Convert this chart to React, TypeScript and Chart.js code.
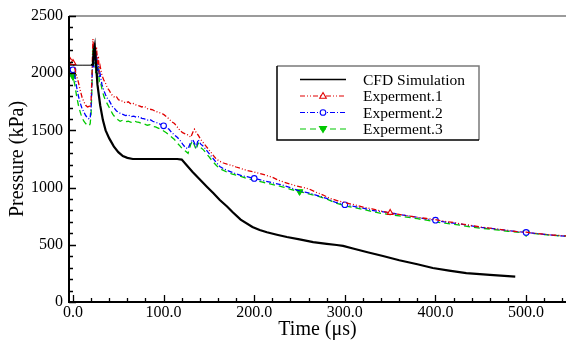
import React, { useEffect, useRef } from 'react';
import { Chart, registerables } from 'chart.js';

Chart.register(...registerables);

// ---- Data ----
const seriesNames = ['CFD Simulation', 'Experment.1', 'Experment.2', 'Experment.3'];
const xTickValues = [0, 100, 200, 300, 400, 500];
const yTickValues = [0, 500, 1000, 1500, 2000, 2500];

const cfdX = [-4.4, 0, 10, 20, 22, 23, 24, 25, 27, 30, 33, 36, 40, 45, 50, 55, 60, 66, 80, 100, 115, 120, 125, 132, 140, 148, 155, 162, 170, 176, 185, 198, 206, 214, 225, 236, 250, 265, 280, 291, 298, 310, 325, 342, 360, 380, 397, 415, 434, 460, 488];
const cfdY = [2070, 2070, 2070, 2070, 2075, 2200, 2240, 2120, 1900, 1720, 1590, 1500, 1430, 1360, 1310, 1275, 1260, 1250, 1250, 1250, 1250, 1245, 1200, 1136, 1070, 1005, 950, 892, 835, 787, 720, 656, 630, 610, 588, 568, 548, 524, 508, 498, 490, 465, 435, 402, 365, 330, 297, 275, 253, 237, 222];

const exp1X = [-4.4, -2, 0, 2, 4, 6, 8, 10, 12, 14, 16, 18, 19, 20, 21, 22, 23, 24, 25, 26, 27, 28, 29, 30, 32, 34, 36, 38, 40, 42, 44, 46, 48, 50, 52, 55, 58, 61, 64, 67, 70, 73, 76, 79, 82, 85, 88, 91, 94, 97, 100, 103, 106, 109, 112, 115, 118, 121, 124, 127, 130, 132, 134, 136, 138, 141, 144, 147, 150, 154, 158, 162, 166, 170, 175, 180, 186, 192, 198, 205, 212, 220, 228, 236, 244, 252, 260, 268, 276, 284, 292, 300, 310, 320, 330, 340, 350, 360, 370, 380, 390, 400, 410, 420, 430, 440, 450, 460, 470, 480, 490, 500, 510, 520, 530, 544];
const exp1Y = [2150, 2120, 2090, 2040, 1975, 1920, 1850, 1790, 1750, 1720, 1705, 1710, 1700, 1760, 2000, 2300, 2180, 2260, 2120, 2230, 2080, 2150, 2020, 2060, 1980, 1940, 1910, 1870, 1850, 1820, 1800, 1790, 1795, 1770, 1760, 1755, 1740, 1750, 1730, 1735, 1720, 1715, 1705, 1710, 1690, 1685, 1680, 1665, 1660, 1650, 1640, 1620, 1600, 1575, 1560, 1530, 1500, 1480, 1470, 1460, 1440, 1480, 1510, 1480, 1460, 1420, 1390, 1360, 1330, 1290, 1250, 1230, 1215, 1205, 1195, 1180, 1165, 1150, 1140, 1125, 1110, 1090, 1060, 1040, 1020, 1005, 990, 960, 935, 905, 885, 870, 850, 830, 815, 795, 780, 765, 752, 740, 730, 720, 705, 695, 680, 668, 655, 645, 635, 625, 615, 610, 600, 592, 585, 578];
const exp1Marks = [0, 350];

const exp2X = [-4.4, -2, 0, 2, 4, 6, 8, 10, 12, 14, 16, 18, 19, 20, 21, 22, 23, 24, 25, 26, 27, 28, 29, 30, 32, 34, 36, 38, 40, 42, 44, 46, 48, 50, 52, 55, 58, 61, 64, 67, 70, 73, 76, 79, 82, 85, 88, 91, 94, 97, 100, 103, 106, 109, 112, 115, 118, 121, 124, 127, 130, 132, 134, 136, 138, 141, 144, 147, 150, 154, 158, 162, 166, 170, 175, 180, 186, 192, 200, 208, 216, 224, 232, 240, 248, 256, 264, 272, 280, 290, 300, 310, 320, 330, 340, 350, 360, 370, 380, 390, 400, 410, 420, 430, 440, 450, 460, 470, 480, 490, 500, 510, 520, 530, 544];
const exp2Y = [2060, 2040, 2030, 1980, 1880, 1800, 1740, 1690, 1660, 1630, 1610, 1600, 1610, 1700, 1950, 2150, 2050, 2200, 2080, 2180, 2020, 2100, 1960, 1990, 1900, 1850, 1810, 1780, 1760, 1730, 1700, 1690, 1670, 1660, 1650, 1640, 1630, 1635, 1620, 1625, 1615, 1620, 1605, 1600, 1590, 1595, 1580, 1570, 1565, 1550, 1540, 1525, 1510, 1480, 1460, 1440, 1415, 1380, 1350, 1340, 1400, 1420, 1390, 1350, 1420, 1380, 1360, 1330, 1300, 1260, 1220, 1185, 1165, 1150, 1135, 1120, 1105, 1095, 1080, 1065, 1050, 1035, 1020, 1000, 975, 960, 945, 925, 905, 870, 850, 835, 820, 800, 790, 780, 765, 752, 740, 725, 715, 700, 690, 678, 665, 652, 645, 635, 625, 615, 608, 600, 592, 583, 575];
const exp2Marks = [0, 100, 200, 300, 400, 500];

const exp3X = [-4.4, -2, 0, 2, 4, 6, 8, 10, 12, 14, 16, 18, 19, 20, 21, 22, 23, 24, 25, 26, 27, 28, 29, 30, 32, 34, 36, 38, 40, 42, 44, 46, 48, 50, 52, 55, 58, 61, 64, 67, 70, 73, 76, 79, 82, 85, 88, 91, 94, 97, 100, 103, 106, 109, 112, 115, 118, 121, 124, 127, 130, 132, 134, 136, 138, 141, 144, 147, 150, 154, 158, 162, 166, 170, 175, 180, 186, 192, 200, 208, 216, 224, 232, 240, 250, 260, 270, 280, 290, 300, 310, 320, 330, 340, 350, 360, 370, 380, 390, 400, 410, 420, 430, 440, 450, 460, 470, 480, 490, 500, 510, 520, 530, 544];
const exp3Y = [2010, 1990, 1970, 1900, 1800, 1720, 1660, 1610, 1580, 1560, 1545, 1540, 1560, 1650, 1900, 2230, 2080, 2150, 2000, 2120, 1970, 2050, 1930, 1940, 1860, 1800, 1760, 1730, 1700, 1670, 1640, 1620, 1605, 1590, 1580, 1590, 1575, 1580, 1570, 1585, 1575, 1570, 1560, 1555, 1545, 1550, 1535, 1530, 1520, 1510, 1495, 1480, 1460, 1440, 1420, 1390, 1365, 1335, 1320, 1300, 1380, 1410, 1370, 1330, 1390, 1350, 1330, 1300, 1270, 1230, 1195, 1165, 1150, 1135, 1120, 1110, 1095, 1080, 1065, 1050, 1035, 1020, 1005, 985, 965, 945, 925, 900, 865, 840, 825, 810, 790, 775, 765, 752, 740, 728, 715, 700, 690, 680, 668, 655, 645, 638, 628, 618, 610, 605, 597, 590, 582, 576];
const exp3Marks = [0, 250, 500];

// ---- Styles ----
const FONT = "'Liberation Serif', 'Times New Roman', serif";
const RED = 'rgb(225,0,0)';
const BLUE = 'rgb(0,0,255)';
const GREEN = 'rgb(0,200,0)';
const DASH1 = [5, 2, 1, 2, 1, 2];
const DASH2 = [5, 2, 1, 2];
const DASH3 = [6, 4];

const toPts = (xs: number[], ys: number[]) => xs.map((x, i) => ({ x, y: ys[i] }));
const markRadius = (marks: number[], r: number) => (ctx: any) =>
  ctx.raw && marks.includes(ctx.raw.x) ? r : 0;

function drawMarker(ctx: CanvasRenderingContext2D, kind: string, cx: number, cy: number, color: string) {
  ctx.save();
  ctx.setLineDash([]);
  ctx.lineWidth = 1.1;
  ctx.strokeStyle = color;
  ctx.beginPath();
  if (kind === 'tri') {
    ctx.moveTo(cx, cy - 3.5);
    ctx.lineTo(cx + 3.3, cy + 2.3);
    ctx.lineTo(cx - 3.3, cy + 2.3);
    ctx.closePath();
    ctx.fillStyle = '#fff';
    ctx.fill();
    ctx.stroke();
  } else if (kind === 'circ') {
    ctx.arc(cx, cy, 2.8, 0, Math.PI * 2);
    ctx.fillStyle = '#fff';
    ctx.fill();
    ctx.stroke();
  } else if (kind === 'trid') {
    ctx.moveTo(cx, cy + 3.5);
    ctx.lineTo(cx + 3.5, cy - 2.5);
    ctx.lineTo(cx - 3.5, cy - 2.5);
    ctx.closePath();
    ctx.fillStyle = color;
    ctx.fill();
    ctx.stroke();
  }
  ctx.restore();
}

const framePlugin = {
  id: 'frame',
  afterDatasetsDraw(chart: any) {
    const { ctx, chartArea: a, scales } = chart;
    const xs = scales.x;
    const ys = scales.y;
    ctx.save();
    ctx.setLineDash([]);
    // top border
    ctx.strokeStyle = '#7a7a7a';
    ctx.lineWidth = 1.5;
    ctx.beginPath();
    ctx.moveTo(a.left, a.top);
    ctx.lineTo(a.right, a.top);
    ctx.stroke();
    // axes
    ctx.strokeStyle = '#000';
    ctx.lineWidth = 2;
    ctx.beginPath();
    ctx.moveTo(a.left, a.top);
    ctx.lineTo(a.left, a.bottom);
    ctx.lineTo(a.right, a.bottom);
    ctx.stroke();
    // ticks
    ctx.lineWidth = 1.3;
    ctx.beginPath();
    for (let v = 0; v <= xs.max; v += 20) {
      const px = Math.round(xs.getPixelForValue(v)) + 0.5;
      const len = v % 100 === 0 ? 7 : 4;
      ctx.moveTo(px, a.bottom);
      ctx.lineTo(px, a.bottom - len);
    }
    for (let v = 0; v <= ys.max; v += 100) {
      const py = Math.round(ys.getPixelForValue(v)) + 0.5;
      const len = v % 500 === 0 ? 7 : 4;
      ctx.moveTo(a.left, py);
      ctx.lineTo(a.left + len, py);
    }
    ctx.stroke();

    // legend box
    const bx = 277, by = 66, bw = 202, bh = 74;
    ctx.lineWidth = 1.5;
    ctx.fillStyle = '#fff';
    ctx.fillRect(bx, by, bw, bh);
    ctx.strokeStyle = '#7a7a7a';
    ctx.beginPath();
    ctx.moveTo(bx, by);
    ctx.lineTo(bx + bw, by);
    ctx.lineTo(bx + bw, by + bh);
    ctx.stroke();
    ctx.strokeStyle = '#000';
    ctx.beginPath();
    ctx.moveTo(bx, by);
    ctx.lineTo(bx, by + bh);
    ctx.lineTo(bx + bw, by + bh);
    ctx.stroke();

    const rows = [
      { color: '#000', dash: [] as number[], w: 1.5, mark: '' },
      { color: RED, dash: DASH1, w: 1.2, mark: 'tri' },
      { color: BLUE, dash: DASH2, w: 1.2, mark: 'circ' },
      { color: GREEN, dash: DASH3, w: 1.2, mark: 'trid' },
    ];
    ctx.font = `15.5px ${FONT}`;
    ctx.textBaseline = 'middle';
    ctx.textAlign = 'left';
    rows.forEach((r, i) => {
      const yy = 79.5 + i * 16.5;
      ctx.save();
      ctx.strokeStyle = r.color;
      ctx.lineWidth = r.w;
      ctx.setLineDash(r.dash);
      ctx.beginPath();
      ctx.moveTo(300, yy);
      ctx.lineTo(346, yy);
      ctx.stroke();
      ctx.restore();
      if (r.mark) drawMarker(ctx, r.mark, 323, yy, r.color);
      ctx.fillStyle = '#000';
      ctx.fillText(seriesNames[i], 363, yy + 1);
    });
    ctx.restore();
  },
};

export default function App() {
  const ref = useRef<HTMLCanvasElement>(null);

  useEffect(() => {
    if (!ref.current) return;
    const chart = new Chart(ref.current, {
      type: 'line',
      data: {
        datasets: [
          {
            label: seriesNames[0],
            data: toPts(cfdX, cfdY),
            borderColor: '#000',
            borderWidth: 2.2,
            pointRadius: 0,
            tension: 0,
            segment: {
              borderWidth: (c: any) => (c.p1DataIndex <= 3 ? 1 : undefined),
            },
          },
          {
            label: seriesNames[1],
            data: toPts(exp1X, exp1Y),
            borderColor: RED,
            borderWidth: 1.3,
            borderDash: DASH1,
            pointStyle: 'triangle',
            pointRadius: markRadius(exp1Marks, 3.3),
            pointBackgroundColor: '#fff',
            pointBorderColor: RED,
            pointBorderWidth: 1.1,
            tension: 0,
          },
          {
            label: seriesNames[2],
            data: toPts(exp2X, exp2Y),
            borderColor: BLUE,
            borderWidth: 1.3,
            borderDash: DASH2,
            pointStyle: 'circle',
            pointRadius: markRadius(exp2Marks, 2.8),
            pointBackgroundColor: '#fff',
            pointBorderColor: BLUE,
            pointBorderWidth: 1.1,
            tension: 0,
          },
          {
            label: seriesNames[3],
            data: toPts(exp3X, exp3Y),
            borderColor: GREEN,
            borderWidth: 1.3,
            borderDash: DASH3,
            pointStyle: 'triangle',
            pointRotation: 180,
            pointRadius: markRadius(exp3Marks, 3.8),
            pointBackgroundColor: GREEN,
            pointBorderColor: GREEN,
            pointBorderWidth: 1,
            tension: 0,
          },
        ],
      },
      options: {
        animation: false,
        responsive: false,
        devicePixelRatio: 1,
        layout: { padding: { top: 16, right: 0, left: 0, bottom: 0 } },
        plugins: { legend: { display: false }, tooltip: { enabled: false } },
        scales: {
          x: {
            type: 'linear',
            min: -4.4,
            max: 544,
            grid: { display: false, drawTicks: false },
            border: { display: false },
            afterBuildTicks: (s: any) => {
              s.ticks = xTickValues.map((v) => ({ value: v }));
            },
            afterFit: (s: any) => {
              s.height = 38;
            },
            ticks: {
              autoSkip: false,
              maxRotation: 0,
              padding: 1,
              color: '#000',
              font: { family: FONT, size: 16 },
              callback: (v: any) => Number(v).toFixed(1),
            },
            title: {
              display: true,
              text: 'Time (μs)',
              color: '#000',
              font: { family: FONT, size: 20, lineHeight: 1 },
              padding: { top: 0, bottom: 0 },
            },
          },
          y: {
            type: 'linear',
            min: 0,
            max: 2500,
            grid: { display: false, drawTicks: false },
            border: { display: false },
            afterBuildTicks: (s: any) => {
              s.ticks = yTickValues.map((v) => ({ value: v }));
            },
            afterFit: (s: any) => {
              s.width = 69;
            },
            ticks: {
              autoSkip: false,
              padding: 6,
              color: '#000',
              font: { family: FONT, size: 16 },
              callback: (v: any) => String(v),
            },
            title: {
              display: true,
              text: 'Pressure (kPa)',
              color: '#000',
              font: { family: FONT, size: 20, lineHeight: 1 },
              padding: { top: 8, bottom: 0 },
            },
          },
        },
      },
      plugins: [framePlugin],
    } as any);
    return () => chart.destroy();
  }, []);

  return (
    <div style={{ position: 'absolute', left: 0, top: 0, width: 566, height: 340, background: '#fff' }}>
      <canvas ref={ref} width={566} height={340} />
    </div>
  );
}
